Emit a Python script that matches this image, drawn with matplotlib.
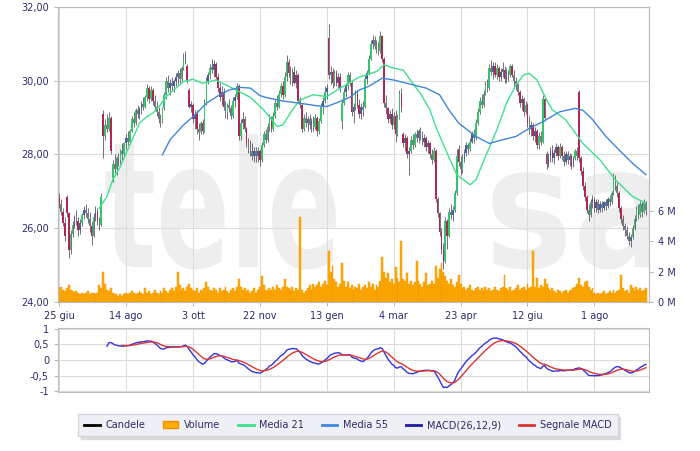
import matplotlib
matplotlib.use('Agg')
import matplotlib.pyplot as plt
import matplotlib.transforms as mtransforms
from matplotlib.textpath import TextPath
from matplotlib.patches import PathPatch, Patch
from matplotlib.lines import Line2D
from matplotlib.font_manager import FontProperties
import numpy as np
import pandas as pd

# dati giornalieri (prezzi in euro, volumi in milioni)
aperture = [
    26.85, 26.65, 26.45, 26.15, 26.85, 26.40, 25.40, 25.85, 26.10, 26.30,
    26.20, 25.95, 26.15, 26.35, 26.50, 26.40, 26.25, 26.05, 25.80, 26.30,
    26.45, 26.20, 26.10, 29.10, 28.50, 28.80, 28.70, 29.00, 27.35, 27.75,
    27.60, 27.90, 27.85, 28.10, 28.00, 28.30, 28.45, 28.35, 28.65, 28.95,
    28.85, 29.20, 29.10, 29.25, 29.35, 29.30, 29.55, 29.80, 29.50, 29.75,
    29.45, 29.30, 29.15, 28.95, 28.90, 29.25, 29.60, 30.00, 29.80, 29.95,
    29.85, 30.00, 30.10, 30.20, 30.05, 30.35, 30.60, 30.40, 29.75, 29.30,
    29.35, 28.95, 29.10, 28.70, 28.60, 28.85, 28.65, 29.40, 30.00, 30.15,
    30.35, 30.30, 30.45, 30.10, 29.80, 29.55, 29.70, 29.30, 29.15, 29.35,
    29.25, 29.05, 29.45, 29.55, 29.85, 28.50, 28.85, 28.95, 28.70, 28.30,
    28.15, 28.10, 27.95, 28.10, 27.95, 28.10, 27.85, 28.25, 28.55, 28.40,
    28.75, 29.00, 28.70, 29.05, 29.40, 29.30, 29.65, 29.85, 29.60, 30.10,
    30.50, 30.20, 30.00, 30.25, 29.95, 30.15, 29.45, 29.35, 28.70, 29.00,
    28.85, 28.95, 28.80, 28.90, 28.75, 29.00, 28.65, 28.90, 29.30, 29.45,
    29.70, 31.15, 30.15, 30.25, 29.95, 30.20, 29.95, 30.10, 28.90, 29.40,
    29.70, 29.85, 30.15, 29.95, 29.15, 29.30, 29.65, 29.35, 29.10, 29.30,
    29.30, 30.05, 30.20, 30.60, 31.00, 31.10, 30.95, 30.85, 30.80, 31.20,
    30.60, 29.40, 29.25, 28.95, 29.10, 28.80, 29.05, 28.55, 29.00, 29.65,
    28.55, 28.30, 28.45, 28.00, 28.10, 28.40, 28.25, 28.55, 28.45, 28.65,
    28.50, 28.35, 28.45, 28.20, 28.30, 28.00, 27.85, 28.10, 26.80, 26.40,
    25.90, 25.40, 25.10, 26.20, 25.80, 26.45, 26.35, 26.50, 26.95, 28.15,
    27.80, 27.60, 27.90, 28.05, 28.25, 28.15, 28.35, 28.55, 28.45, 28.85,
    29.15, 29.45, 29.35, 29.65, 29.90, 29.80, 30.35, 30.25, 30.40, 30.15,
    30.35, 30.10, 30.25, 30.30, 30.05, 30.25, 30.15, 30.40, 30.15, 30.00,
    29.90, 29.70, 29.40, 29.50, 29.15, 29.35, 28.85, 28.70, 28.80, 28.50,
    28.65, 28.25, 28.50, 28.35, 29.50, 28.00, 27.75, 27.95, 28.10, 27.90,
    28.05, 28.20, 27.95, 28.20, 27.95, 27.80, 28.00, 27.85, 27.95, 27.70,
    27.90, 28.10, 29.70, 27.90, 27.55, 27.15, 26.85, 26.50, 26.35, 26.70,
    26.80, 26.55, 26.70, 26.50, 26.65, 26.55, 26.70, 26.60, 26.80, 26.70,
    26.95, 27.30, 27.15, 26.95, 26.55, 26.25, 26.05, 25.95, 25.80, 25.65,
    25.75, 26.00, 26.25, 26.50, 26.35, 26.65, 26.45, 26.70,
]
massimi = [
    26.95, 26.80, 26.55, 26.30, 26.90, 26.45, 25.95, 26.20, 26.35, 26.50,
    26.30, 26.25, 26.40, 26.60, 26.65, 26.55, 26.45, 26.20, 26.40, 26.60,
    26.55, 26.30, 26.95, 29.20, 28.95, 29.10, 29.15, 29.05, 27.85, 28.00,
    27.95, 28.05, 28.15, 28.30, 28.35, 28.55, 28.65, 28.70, 29.05, 29.15,
    29.25, 29.35, 29.30, 29.45, 29.55, 29.60, 29.90, 29.85, 29.85, 29.80,
    29.60, 29.45, 29.30, 29.10, 29.30, 29.70, 30.10, 30.15, 30.05, 30.10,
    30.05, 30.20, 30.30, 30.35, 30.40, 30.75, 30.80, 30.45, 29.80, 29.45,
    29.40, 29.20, 29.20, 28.85, 28.90, 28.95, 29.50, 30.10, 30.25, 30.45,
    30.60, 30.55, 30.50, 30.20, 29.95, 29.85, 29.80, 29.45, 29.40, 29.50,
    29.35, 29.55, 29.65, 29.95, 29.90, 28.95, 29.15, 29.05, 28.75, 28.45,
    28.40, 28.30, 28.20, 28.20, 28.20, 28.15, 28.35, 28.65, 28.70, 28.85,
    29.10, 29.05, 29.15, 29.50, 29.60, 29.75, 29.95, 30.00, 30.25, 30.70,
    30.60, 30.40, 30.35, 30.40, 30.30, 30.20, 29.55, 29.40, 29.10, 29.15,
    29.05, 29.10, 29.00, 29.05, 29.10, 29.05, 29.00, 29.40, 29.55, 29.85,
    29.90, 31.55, 30.40, 30.35, 30.30, 30.30, 30.20, 30.20, 29.50, 29.80,
    29.95, 30.25, 30.25, 30.00, 29.40, 29.75, 29.75, 29.50, 29.40, 29.45,
    30.15, 30.30, 30.70, 31.10, 31.25, 31.20, 31.10, 31.05, 31.35, 31.25,
    30.65, 29.60, 29.30, 29.20, 29.25, 29.15, 29.20, 29.10, 29.75, 29.80,
    28.60, 28.55, 28.50, 28.20, 28.50, 28.55, 28.60, 28.70, 28.70, 28.75,
    28.65, 28.55, 28.50, 28.40, 28.35, 28.15, 28.20, 28.15, 26.85, 26.45,
    26.00, 25.60, 26.30, 26.25, 26.55, 26.65, 26.60, 27.05, 28.15, 28.25,
    27.95, 28.00, 28.15, 28.35, 28.30, 28.45, 28.65, 28.70, 28.95, 29.25,
    29.55, 29.65, 29.75, 30.00, 30.05, 30.45, 30.55, 30.50, 30.50, 30.45,
    30.40, 30.35, 30.50, 30.40, 30.35, 30.30, 30.45, 30.45, 30.30, 30.10,
    29.95, 29.75, 29.60, 29.55, 29.45, 29.40, 29.05, 28.90, 28.85, 28.75,
    28.70, 28.60, 28.65, 29.60, 29.55, 28.10, 28.05, 28.20, 28.25, 28.15,
    28.30, 28.25, 28.30, 28.25, 28.10, 28.10, 28.10, 28.05, 28.00, 27.95,
    28.15, 28.20, 29.75, 27.95, 27.65, 27.25, 26.90, 26.65, 26.80, 26.90,
    26.85, 26.80, 26.80, 26.75, 26.75, 26.75, 26.80, 26.85, 26.90, 27.00,
    27.50, 27.45, 27.25, 27.00, 26.60, 26.35, 26.15, 26.05, 25.90, 25.85,
    26.10, 26.35, 26.60, 26.65, 26.75, 26.70, 26.80, 26.75,
]
minimi = [
    26.55, 26.35, 26.05, 25.65, 26.30, 25.20, 25.30, 25.75, 26.00, 26.10,
    25.80, 25.85, 26.05, 26.25, 26.30, 26.15, 25.90, 25.55, 25.75, 26.20,
    26.10, 25.95, 26.05, 27.90, 28.40, 28.60, 28.65, 28.00, 27.25, 27.50,
    27.45, 27.70, 27.75, 27.85, 27.95, 28.15, 28.25, 28.30, 28.60, 28.75,
    28.80, 29.00, 28.95, 29.10, 29.20, 29.25, 29.45, 29.40, 29.45, 29.35,
    29.20, 29.05, 28.85, 28.75, 28.85, 29.20, 29.50, 29.70, 29.60, 29.75,
    29.70, 29.85, 29.90, 29.95, 30.00, 30.30, 30.45, 29.95, 29.25, 29.15,
    28.85, 28.70, 28.55, 28.40, 28.55, 28.55, 28.60, 29.35, 29.90, 30.05,
    30.20, 30.10, 30.05, 29.70, 29.45, 29.35, 29.20, 29.00, 28.95, 29.15,
    28.95, 29.00, 29.30, 29.50, 28.40, 28.40, 28.70, 28.60, 28.20, 28.05,
    27.95, 27.85, 27.80, 27.80, 27.80, 27.70, 27.80, 28.20, 28.30, 28.35,
    28.65, 28.60, 28.65, 29.00, 29.20, 29.25, 29.55, 29.50, 29.55, 30.00,
    30.10, 29.90, 29.85, 29.90, 29.80, 29.40, 29.25, 28.60, 28.65, 28.75,
    28.65, 28.70, 28.60, 28.65, 28.70, 28.50, 28.55, 28.85, 29.10, 29.40,
    29.50, 30.05, 29.90, 29.80, 29.85, 29.85, 29.80, 29.70, 28.70, 29.35,
    29.55, 29.75, 29.85, 29.05, 28.85, 29.20, 29.25, 29.00, 28.95, 29.05,
    29.25, 29.90, 30.15, 30.55, 30.85, 30.85, 30.75, 30.70, 30.75, 30.50,
    29.30, 29.10, 28.85, 28.85, 28.70, 28.70, 28.35, 28.50, 28.95, 29.15,
    28.20, 28.10, 27.90, 27.45, 28.05, 28.15, 28.20, 28.35, 28.30, 28.40,
    28.25, 28.20, 28.10, 28.05, 27.90, 27.75, 27.80, 26.70, 26.30, 25.80,
    25.30, 24.90, 25.05, 25.45, 25.75, 26.25, 26.20, 26.45, 26.90, 27.70,
    27.45, 27.50, 27.80, 27.95, 28.00, 28.10, 28.30, 28.30, 28.40, 28.80,
    29.10, 29.25, 29.30, 29.60, 29.70, 29.75, 30.15, 30.05, 30.10, 30.05,
    30.00, 30.00, 30.10, 29.95, 29.95, 30.00, 30.10, 30.10, 29.85, 29.75,
    29.60, 29.30, 29.20, 29.05, 29.10, 28.75, 28.55, 28.50, 28.40, 28.35,
    28.15, 28.15, 28.25, 28.30, 28.90, 27.60, 27.65, 27.80, 27.80, 27.75,
    27.95, 27.85, 27.90, 27.85, 27.70, 27.75, 27.75, 27.70, 27.60, 27.65,
    27.85, 27.85, 27.80, 27.45, 27.05, 26.75, 26.40, 26.20, 26.30, 26.55,
    26.45, 26.45, 26.40, 26.45, 26.45, 26.50, 26.50, 26.55, 26.60, 26.65,
    26.90, 27.05, 26.85, 26.45, 26.15, 25.95, 25.80, 25.70, 25.55, 25.50,
    25.70, 25.95, 26.20, 26.25, 26.30, 26.30, 26.40, 26.35,
]
chiusure = [
    26.65, 26.45, 26.15, 25.80, 26.40, 25.40, 25.85, 26.10, 26.30, 26.20,
    25.95, 26.15, 26.35, 26.50, 26.40, 26.25, 26.05, 25.80, 26.30, 26.45,
    26.20, 26.10, 26.85, 28.50, 28.80, 28.70, 29.00, 28.10, 27.75, 27.60,
    27.90, 27.85, 28.10, 28.00, 28.30, 28.45, 28.35, 28.65, 28.95, 28.85,
    29.20, 29.10, 29.25, 29.35, 29.30, 29.55, 29.80, 29.50, 29.75, 29.45,
    29.30, 29.15, 28.95, 28.90, 29.25, 29.60, 30.00, 29.80, 29.95, 29.85,
    30.00, 30.10, 30.20, 30.05, 30.35, 30.60, 30.70, 30.00, 29.30, 29.35,
    28.95, 29.10, 28.70, 28.60, 28.85, 28.65, 29.40, 30.00, 30.15, 30.35,
    30.30, 30.45, 30.10, 29.80, 29.55, 29.70, 29.30, 29.15, 29.35, 29.25,
    29.05, 29.45, 29.55, 29.85, 28.50, 28.85, 28.95, 28.70, 28.30, 28.15,
    28.10, 27.95, 28.10, 27.95, 28.10, 27.85, 28.25, 28.55, 28.40, 28.75,
    29.00, 28.70, 29.05, 29.40, 29.30, 29.65, 29.85, 29.60, 30.10, 30.50,
    30.20, 30.00, 30.25, 29.95, 30.15, 29.45, 29.35, 28.70, 29.00, 28.85,
    28.95, 28.80, 28.90, 28.75, 29.00, 28.65, 28.90, 29.30, 29.45, 29.70,
    29.80, 30.15, 30.25, 29.95, 30.20, 29.95, 30.10, 29.80, 29.40, 29.70,
    29.85, 30.15, 29.95, 29.15, 29.30, 29.65, 29.35, 29.10, 29.30, 29.20,
    30.05, 30.20, 30.60, 31.00, 31.10, 30.95, 30.85, 30.80, 31.20, 30.60,
    29.40, 29.25, 28.95, 29.10, 28.80, 29.05, 28.55, 29.00, 29.65, 29.25,
    28.30, 28.45, 28.00, 28.10, 28.40, 28.25, 28.55, 28.45, 28.65, 28.50,
    28.35, 28.45, 28.20, 28.30, 28.00, 27.85, 28.10, 26.80, 26.40, 25.90,
    25.40, 25.10, 26.20, 25.80, 26.45, 26.35, 26.50, 26.95, 27.95, 27.80,
    27.60, 27.90, 28.05, 28.25, 28.15, 28.35, 28.55, 28.45, 28.85, 29.15,
    29.45, 29.35, 29.65, 29.90, 29.80, 30.35, 30.25, 30.40, 30.15, 30.35,
    30.10, 30.25, 30.30, 30.05, 30.25, 30.15, 30.40, 30.15, 30.00, 29.90,
    29.70, 29.40, 29.50, 29.15, 29.35, 28.85, 28.70, 28.80, 28.50, 28.65,
    28.25, 28.50, 28.35, 29.50, 29.00, 27.75, 27.95, 28.10, 27.90, 28.05,
    28.20, 27.95, 28.20, 27.95, 27.80, 28.00, 27.85, 27.95, 27.70, 27.90,
    28.10, 27.95, 27.90, 27.55, 27.15, 26.85, 26.50, 26.35, 26.70, 26.80,
    26.55, 26.70, 26.50, 26.65, 26.55, 26.70, 26.60, 26.80, 26.70, 26.95,
    27.30, 27.15, 26.95, 26.55, 26.25, 26.05, 25.95, 25.80, 25.65, 25.75,
    26.00, 26.25, 26.50, 26.35, 26.65, 26.45, 26.70, 26.50,
]
volumi = [
    0.9, 1.0, 0.8, 0.7, 0.9, 1.1, 0.8, 0.7, 0.6, 0.7,
    0.6, 0.5, 0.6, 0.5, 0.6, 0.7, 0.5, 0.6, 0.6, 0.5,
    0.6, 1.1, 0.9, 2.0, 1.2, 0.8, 0.7, 0.9, 0.6, 0.5,
    0.5, 0.4, 0.5, 0.4, 0.5, 0.6, 0.5, 0.6, 0.7, 0.6,
    0.5, 0.6, 0.7, 0.6, 0.5, 0.9, 0.6, 0.7, 0.5, 0.6,
    0.8, 0.6, 0.5, 0.7, 0.6, 0.9, 0.7, 0.6, 0.8, 0.9,
    0.7, 1.0, 2.0, 1.1, 0.8, 0.9, 0.7, 1.0, 1.2, 0.9,
    0.8, 0.7, 0.9, 0.6, 0.8, 0.7, 0.9, 1.3, 1.0, 0.8,
    0.7, 0.9, 0.8, 0.6, 0.9, 0.7, 0.8, 1.0, 0.7, 0.6,
    0.8, 0.9, 0.7, 1.0, 1.5, 1.0, 0.8, 0.9, 0.7, 0.8,
    0.6, 0.7, 0.9, 0.6, 0.8, 1.0, 1.7, 1.1, 0.8, 0.7,
    0.9, 0.8, 1.0, 0.8, 1.1, 0.9, 0.8, 1.0, 1.5, 1.0,
    0.9, 0.8, 1.0, 0.7, 0.9, 0.8, 5.6, 0.8, 0.6, 0.7,
    0.9, 1.1, 0.8, 1.2, 1.0, 1.1, 1.3, 1.0, 1.2, 1.4,
    1.1, 3.4, 2.0, 2.4, 1.5, 1.3, 1.0, 1.2, 2.6, 1.4,
    1.0, 1.3, 0.9, 1.1, 0.8, 1.0, 0.9, 1.2, 0.8, 1.0,
    1.1, 0.9, 1.3, 1.0, 1.2, 0.8, 1.1, 1.0, 1.4, 3.0,
    2.0, 1.6, 1.9, 1.3, 1.5, 1.2, 2.3, 1.6, 1.3, 4.0,
    1.5, 1.4, 1.9, 1.2, 1.4, 1.1, 1.3, 2.7, 1.4, 1.2,
    1.0, 1.3, 1.9, 1.1, 1.2, 1.4, 1.2, 2.4, 1.6, 2.2,
    2.6, 2.0, 1.7, 1.4, 1.2, 1.5, 1.1, 1.0, 1.3, 1.8,
    1.2, 0.9, 1.0, 0.8, 0.9, 1.1, 0.8, 0.7, 0.9, 1.0,
    0.8, 0.9, 0.7, 1.0, 0.8, 0.9, 0.7, 0.8, 1.0, 0.8,
    0.7, 0.9, 1.0, 1.8, 0.9, 0.8, 1.0, 0.7, 0.8, 0.9,
    1.1, 0.8, 0.9, 1.0, 0.8, 1.2, 0.9, 1.0, 3.4, 1.0,
    1.6, 0.9, 1.1, 1.0, 1.5, 1.2, 0.9, 0.8, 0.9, 0.7,
    0.6, 0.8, 0.7, 0.6, 0.7, 0.8, 0.6, 0.7, 0.8, 0.9,
    1.0, 1.2, 1.6, 1.1, 1.0, 1.3, 1.4, 1.0, 0.8, 0.9,
    0.6, 0.5, 0.6, 0.5, 0.6, 0.7, 0.5, 0.6, 0.7, 0.6,
    0.8, 0.6, 0.7, 0.8, 1.8, 0.9, 0.7, 0.8, 0.6, 1.1,
    0.9, 0.7, 1.0, 0.8, 0.9, 0.7, 0.8, 0.9,
]
# medie mobili (indice seduta, valore)
media21_sedute = [21, 25, 28, 32, 35, 39, 42, 46, 49, 53, 56, 65, 70, 75, 82, 89, 100, 107,
                  114, 117, 122, 126, 133, 140, 147, 157, 166, 170, 175, 180, 185, 189, 194,
                  197, 203, 208, 215, 218, 223, 229, 234, 239, 243, 246, 250, 255, 258, 265,
                  274, 283, 291, 300, 307]
media21 = [26.54, 26.86, 27.31, 27.67, 28.03, 28.49, 28.85, 29.03, 29.12, 29.35, 29.57, 29.98,
           30.04, 29.93, 30.02, 29.84, 29.55, 29.21, 28.76, 28.80, 29.21, 29.48, 29.62, 29.57,
           29.80, 30.10, 30.25, 30.43, 30.34, 30.29, 29.93, 29.66, 29.21, 28.76, 28.03, 27.45,
           27.18, 27.31, 27.94, 28.67, 29.39, 29.89, 30.16, 30.20, 30.02, 29.48, 29.21, 28.94,
           28.30, 27.85, 27.31, 26.86, 26.68]
media55_sedute = [54, 58, 65, 71, 77, 84, 89, 95, 100, 105, 108, 117, 126, 135, 140, 149, 152,
                  157, 162, 169, 175, 182, 192, 199, 204, 209, 218, 225, 232, 239, 246, 253,
                  262, 270, 274, 279, 286, 293, 300, 307]
media55 = [27.99, 28.40, 28.80, 29.07, 29.39, 29.62, 29.75, 29.82, 29.80, 29.60, 29.55, 29.45,
           29.39, 29.32, 29.30, 29.48, 29.55, 29.75, 29.85, 30.07, 30.02, 29.93, 29.80, 29.62,
           29.20, 28.85, 28.49, 28.30, 28.40, 28.49, 28.71, 28.89, 29.16, 29.25, 29.20, 28.95,
           28.49, 28.12, 27.76, 27.45]
etichette_date = ['25 giu', '14 ago', '3 ott', '22 nov', '13 gen', '4 mar', '23 apr', '12 giu', '1 ago']
posizioni_date = [0, 35, 70, 105, 140, 175, 210, 245, 280]

COL_TESTO = '#2b2b6b'
COL_GRIGLIA = '#dcdcdc'
COL_BORDO = '#bdbdbd'

plt.rcParams['font.family'] = ['DejaVu Sans']

o = np.array(aperture)
h = np.array(massimi)
l = np.array(minimi)
c = np.array(chiusure)
x = np.arange(len(c))

# MACD(26,12,9) dalle chiusure
s = pd.Series(c)
ema12 = s.ewm(span=12, adjust=False).mean()
ema26 = s.ewm(span=26, adjust=False).mean()
macd = (ema12 - ema26)
macd[:25] = np.nan
segnale = macd.ewm(span=9, adjust=False).mean()
segnale[:33] = np.nan


def stile_asse(ax):
    for sp in ax.spines.values():
        sp.set_color(COL_BORDO)
    ax.grid(True, color=COL_GRIGLIA, linewidth=0.8)
    ax.set_axisbelow(True)
    ax.tick_params(colors='#aaaaaa', labelcolor=COL_TESTO, labelsize=7, length=3, width=0.6)


def marchio(ax, testo, box):
    tp = TextPath((0, 0), testo, size=1, prop=FontProperties(family='DejaVu Sans', weight='bold'))
    ext = tp.get_extents()
    sx = (box[2] - box[0]) / ext.width
    sy = (box[3] - box[1]) / ext.height
    tr = (mtransforms.Affine2D().translate(-ext.x0, -ext.y0).scale(sx, sy)
          .translate(box[0], box[1]) + ax.transAxes)
    ax.add_patch(PathPatch(tp, transform=tr, fc='#eeeeee', ec='none', zorder=0))


fig = plt.figure(figsize=(7, 4.51), dpi=100)
ax = fig.add_axes([0.0829, 0.3304, 0.8443, 0.6541])
ax_vol = ax.twinx()
ax_macd = fig.add_axes([0.0829, 0.1308, 0.8443, 0.1419])

# --- pannello prezzi ---
stile_asse(ax)
marchio(ax, 'tele', (0.08, 0.11, 0.47, 0.57))
marchio(ax, 'sa', (0.735, 0.11, 1.02, 0.44))

colori = []
for i in range(len(c)):
    d = c[i] - o[i]
    if d >= 0.2:
        colori.append('#35c46c')
    elif d <= -0.2:
        colori.append('#b0284f')
    elif d >= 0:
        colori.append('#41619a')
    else:
        colori.append('#777784')

ax.vlines(x, l, h, color='#3a3a4a', linewidth=0.5, zorder=3)
corpo = np.maximum(np.abs(c - o), 0.08)
ax.bar(x, corpo, bottom=np.minimum(o, c), width=0.85, color=colori,
       edgecolor='none', zorder=4)
ax.plot(media21_sedute, media21, color='#3ee08e', linewidth=1.0, zorder=5)
ax.plot(media55_sedute, media55, color='#3f86d8', linewidth=1.0, zorder=5)

ax.set_xlim(-0.6, 308.6)
ax.set_ylim(24, 32)
ax.set_yticks([24, 26, 28, 30, 32])
ax.set_yticklabels(['24,00', '26,00', '28,00', '30,00', '32,00'])
ax.set_xticks(posizioni_date)
ax.set_xticklabels(etichette_date)

ax_vol.bar(x, volumi, width=1.0, color='#ffae00', edgecolor='#ee8c00', linewidth=0.3, zorder=2)
ax_vol.set_ylim(0, 19.5)
ax_vol.set_yticks([0, 2, 4, 6])
ax_vol.set_yticklabels(['0 M', '2 M', '4 M', '6 M'])
ax_vol.tick_params(colors='#aaaaaa', labelcolor=COL_TESTO, labelsize=7, length=3, width=0.6)
for sp in ax_vol.spines.values():
    sp.set_color(COL_BORDO)

# --- pannello MACD ---
stile_asse(ax_macd)
ax_macd.plot(x, macd, color='#3333dd', linewidth=1.0)
ax_macd.plot(x, segnale, color='#dd3333', linewidth=1.0)
ax_macd.set_xlim(-0.6, 308.6)
ax_macd.set_ylim(-1.02, 1.02)
ax_macd.set_yticks([-1, -0.5, 0, 0.5, 1])
ax_macd.set_yticklabels(['-1', '-0,5', '0', '0,5', '1'])
ax_macd.set_xticks(posizioni_date)
ax_macd.set_xticklabels([])
ax_macd.tick_params(axis='x', length=0)

# --- legenda ---
maniglie = [
    Line2D([], [], color='black', linewidth=2),
    Patch(facecolor='#ffae00', edgecolor='#ee8c00'),
    Line2D([], [], color='#3ee08e', linewidth=2),
    Line2D([], [], color='#3f86d8', linewidth=2),
    Line2D([], [], color='#1a1aa0', linewidth=2),
    Line2D([], [], color='#dd3333', linewidth=2),
]
nomi = ['Candele', 'Volume', 'Media 21', 'Media 55', 'MACD(26,12,9)', 'Segnale MACD']
leg = fig.legend(maniglie, nomi, ncol=6, loc='center', bbox_to_anchor=(0.497, 0.057),
                 fontsize=7, labelcolor=COL_TESTO, handlelength=1.6, columnspacing=1.8,
                 handletextpad=0.6, fancybox=False, framealpha=1, borderpad=0.6,
                 shadow={'color': '#dcdcdc', 'alpha': 1})
leg.get_frame().set_facecolor('#eef0f5')
leg.get_frame().set_edgecolor('#d3d6dd')

fig.savefig('out.png', dpi=100)
